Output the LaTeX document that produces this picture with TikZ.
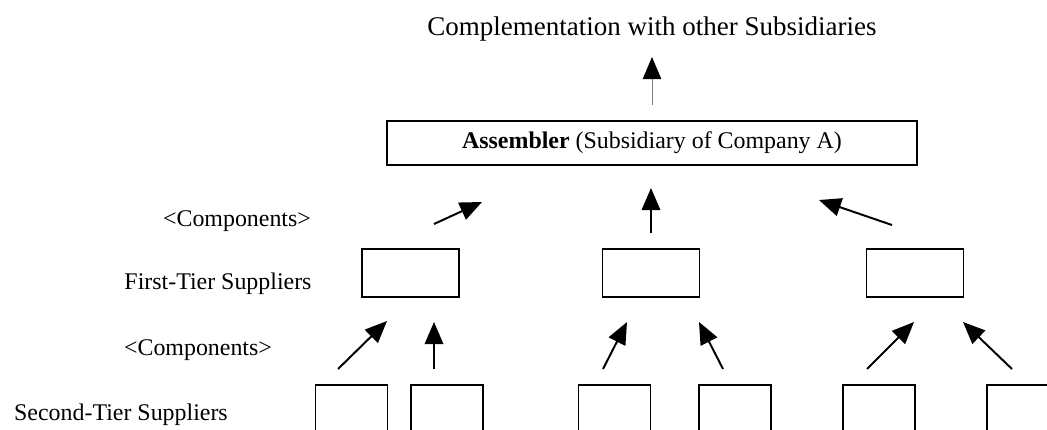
\documentclass[tikz,border=0pt]{standalone}
\usepackage{fontspec}
\setmainfont{Liberation Serif}
\usetikzlibrary{arrows.meta}
\begin{document}
\begin{tikzpicture}[x=0.025cm,y=-0.025cm,>={Triangle[length=0.55cm,width=0.46cm]}]
			\tikzset{label style/.style={font=\fontsize{17pt}{19pt}\selectfont,anchor=base,inner sep=0pt}}
			\tikzset{box/.style={draw,line width=1.4pt,inner sep=0pt}}
			\tikzset{flow/.style={->,line width=1.4pt}}
			\def\px{0.025cm}
			\useasboundingbox (0,0) rectangle (1047,429);
			\begin{scope}
				\clip (0,0) rectangle (1047,429);
				% texts
				\node[label style,font=\fontsize{19.2pt}{21pt}\selectfont] (title) at (652,35) {Complementation with other Subsidiaries};
				\node[label style] (comp1) at (237,226) {<Components>};
				\node[label style] (tier1) at (218,289) {First-Tier Suppliers};
				\node[label style] (comp2) at (198,355) {<Components>};
				\node[label style] (tier2) at (121,420) {Second-Tier Suppliers};
				% assembler
				\node[box,minimum width=530*\px,minimum height=44*\px,font=\fontsize{17pt}{19pt}\selectfont] (asm) at (652,143) {\textbf{Assembler} (Subsidiary of Company A)};
				% first tier
				\node[box,minimum width=97*\px,minimum height=48*\px] (fa) at (410.5,273) {};
				\node[box,minimum width=97*\px,minimum height=48*\px] (fb) at (651,273) {};
				\node[box,minimum width=97*\px,minimum height=48*\px] (fc) at (915,273) {};
				% second tier
				\node[box,minimum width=72*\px,minimum height=60*\px] (sa) at (351.5,415) {};
				\node[box,minimum width=72*\px,minimum height=60*\px] (sb) at (447,415) {};
				\node[box,minimum width=72*\px,minimum height=60*\px] (sc) at (614.5,415) {};
				\node[box,minimum width=72*\px,minimum height=60*\px] (sd) at (735,415) {};
				\node[box,minimum width=72*\px,minimum height=60*\px] (se) at (879,415) {};
				\node[box,minimum width=72*\px,minimum height=60*\px] (sf) at (1023,415) {};
				% arrow ends
				\coordinate (t0) at (652,105); \coordinate (t1) at (652,57);
				\coordinate (a0) at (434,224); \coordinate (a1) at (482,202);
				\coordinate (b0) at (651,233); \coordinate (b1) at (651,188);
				\coordinate (c0) at (892,225); \coordinate (c1) at (819,200);
				\coordinate (d0) at (338,369); \coordinate (d1) at (387,321);
				\coordinate (e0) at (434,369); \coordinate (e1) at (434,322);
				\coordinate (f0) at (603,369); \coordinate (f1) at (627,322);
				\coordinate (g0) at (723,369); \coordinate (g1) at (699,322);
				\coordinate (h0) at (867,369); \coordinate (h1) at (914,322);
				\coordinate (k0) at (1012,369); \coordinate (k1) at (963,322);
				% arrows
				\draw[-{Triangle[length=0.55cm,width=0.46cm,color=black]},line width=0.7pt,draw=gray] (t0)--(t1);
				\draw[flow] (a0)--(a1);
				\draw[flow] (b0)--(b1);
				\draw[flow] (c0)--(c1);
				\draw[flow] (d0)--(d1);
				\draw[flow] (e0)--(e1);
				\draw[flow] (f0)--(f1);
				\draw[flow] (g0)--(g1);
				\draw[flow] (h0)--(h1);
				\draw[flow] (k0)--(k1);
			\end{scope}
		\end{tikzpicture}
\end{document}
